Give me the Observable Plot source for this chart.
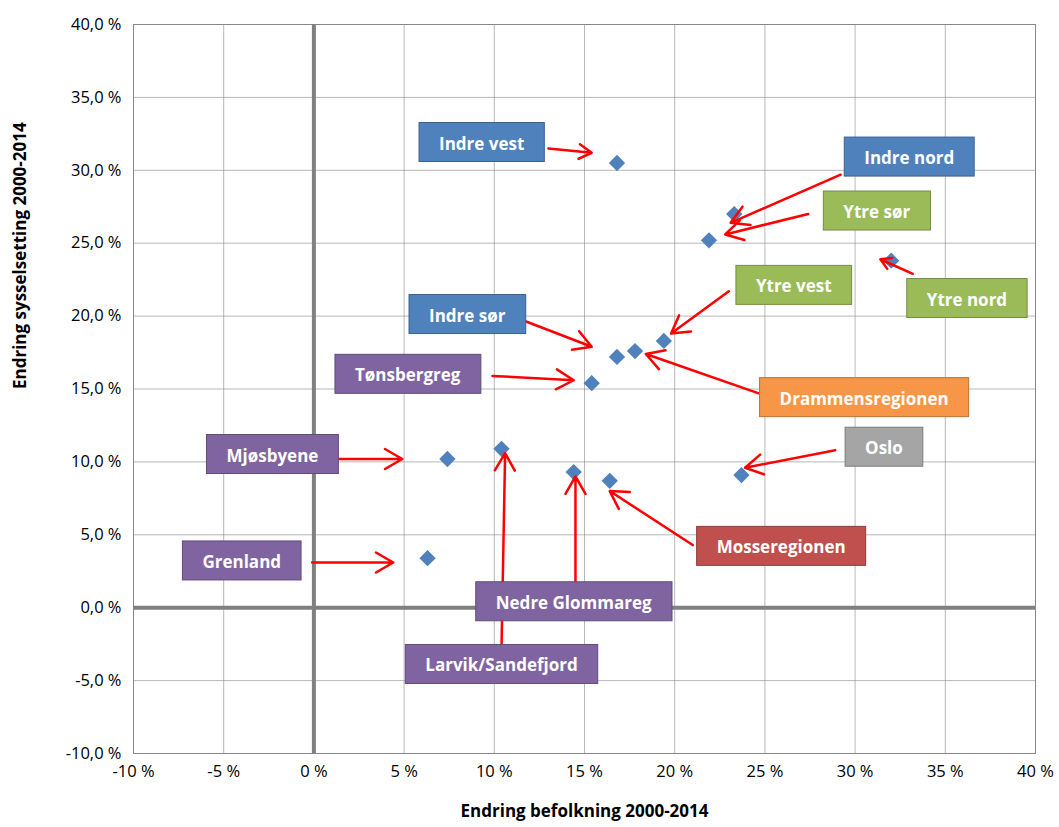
<!DOCTYPE html>
<html><head><meta charset="utf-8">
<script src="https://cdn.jsdelivr.net/npm/d3@7"></script>
<script src="https://cdn.jsdelivr.net/npm/@observablehq/plot@0.6"></script>
<style>body{margin:0;background:#fff;font-family:"Open Sans",sans-serif}</style>
</head><body><div id="chart"></div>
<script>
// regioner, endring befolkning og sysselsetting (%)
const names = ["Indre vest","Indre nord","Ytre sør","Ytre nord","Ytre vest","Indre sør","Drammensregionen","Tønsbergreg","Mjøsbyene","Grenland","Larvik/Sandefjord","Nedre Glommareg","Mosseregionen","Oslo"];
const befolkning = [16.8, 23.3, 21.9, 32.0, 19.4, 16.8, 17.8, 15.4, 7.4, 6.3, 10.4, 14.4, 16.4, 23.7];
const sysselsetting = [30.5, 27.0, 25.2, 23.8, 18.3, 17.2, 17.6, 15.4, 10.2, 3.4, 10.9, 9.3, 8.7, 9.1];
const kategori = ["blue","blue","green","green","green","blue","orange","purple","purple","purple","purple","purple","red","grey"];
// label placement (data units) and arrow ends
const labelX = [9.3, 33.0, 31.2, 36.2, 26.6, 8.5, 30.5, 5.2, -2.3, -4.0, 10.4, 14.4, 25.9, 31.6];
const labelY = [31.8, 30.8, 27.1, 21.1, 22.0, 20.0, 14.3, 15.9, 10.4, 3.1, -4.0, 0.3, 4.1, 10.9];
const arrowX1 = [13.0, 29.2, 27.4, 33.2, 23.0, 11.4, 24.9, 9.9, 1.1, -0.1, 10.4, 14.5, 21.0, 28.9];
const arrowY1 = [31.5, 29.7, 27.0, 22.9, 21.7, 19.8, 14.6, 15.9, 10.2, 3.1, -2.7, 1.6, 4.3, 10.8];
const arrowX2 = [15.4, 23.1, 22.8, 31.4, 19.8, 15.4, 18.4, 14.4, 4.9, 4.4, 10.6, 14.5, 16.4, 23.9];
const arrowY2 = [31.2, 26.4, 25.6, 23.9, 18.8, 17.9, 17.4, 15.6, 10.2, 3.1, 10.6, 9.0, 8.0, 9.6];

const colors = {blue:"#4F81BD", green:"#9BBB59", orange:"#F79646", purple:"#8064A2", red:"#C0504D", grey:"#A5A5A5"};
const pts = names.map((n,i)=>({n, x:befolkning[i], y:sysselsetting[i], c:kategori[i], lx:labelX[i], ly:labelY[i], x1:arrowX1[i], y1:arrowY1[i], x2:arrowX2[i], y2:arrowY2[i]}));
const ticks = d3.range(-10, 41, 5);
const fx = d => d3.format(".0f")(d).replace("−", "-") + " %";
const fy = d => d3.format(".1f")(d).replace(".", ",").replace("−", "-") + " %";

const chart = Plot.plot({
  width: 1059, height: 827,
  marginTop: 24, marginLeft: 133, marginRight: 24, marginBottom: 74,
  style: {fontFamily: "Open Sans", fontSize: "16px", color: "#000"},
  x: {domain: [-10, 40], ticks, tickFormat: fx, label: null},
  y: {domain: [-10, 40], ticks, tickFormat: fy, label: null},
  marks: [
    Plot.gridX(ticks, {stroke: "#888", strokeOpacity: 0.6}),
    Plot.gridY(ticks, {stroke: "#888", strokeOpacity: 0.6}),
    Plot.frame({stroke: "#888"}),
    Plot.ruleX([0], {stroke: "#808080", strokeWidth: 4}),
    Plot.ruleY([0], {stroke: "#808080", strokeWidth: 4}),
    Plot.axisX({ticks, tickFormat: fx, tickSize: 0, tickPadding: 12, fontSize: 16.5, label: null}),
    Plot.axisY({ticks, tickFormat: fy, tickSize: 0, tickPadding: 12, fontSize: 16.5, label: null}),
    Plot.text(["Endring befolkning 2000-2014"], {frameAnchor: "bottom", dy: 63, fontWeight: "bold", fontSize: 17}),
    Plot.text(["Endring sysselsetting 2000-2014"], {frameAnchor: "left", dx: -113, rotate: -90, fontWeight: "bold", fontSize: 17}),
    Plot.dot(pts, {x: "x", y: "y", symbol: "square", rotate: 45, r: 6.5, fill: "#4F81BD"}),
    Plot.arrow(pts, {x1: "x1", y1: "y1", x2: "x2", y2: "y2", stroke: "#FF0000", strokeWidth: 2.5, headLength: 12}),
    Plot.text(pts, {x: "lx", y: "ly", text: "n", fill: "white", fontWeight: "bold", fontSize: 17, className: "lbl"})
  ]
});
d3.select("#chart").append(() => chart);

// boxes behind labels
d3.select(chart).selectAll("g.lbl text").each(function(d, j) {
  const b = this.getBBox();
  const c = colors[pts[j].c];
  d3.select(this.parentNode).insert("rect", () => this)
    .attr("transform", this.getAttribute("transform"))
    .attr("x", b.x - 20).attr("y", b.y - 9).attr("width", b.width + 40).attr("height", b.height + 16)
    .attr("fill", c).attr("stroke", d3.color(c).darker(0.8)).attr("stroke-width", 1);
});
</script></body></html>
